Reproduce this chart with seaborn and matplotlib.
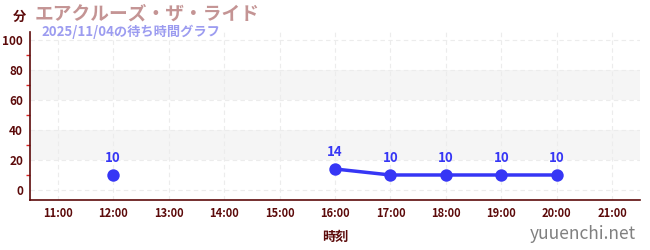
import numpy as np
import pandas as pd
import matplotlib
matplotlib.use("Agg")
import matplotlib.pyplot as plt
from matplotlib.ticker import FixedLocator
import seaborn as sns

title = "エアクルーズ・ザ・ライド"
subtitle = "2025/11/04の待ち時間グラフ"
times = ["12:00", "16:00", "17:00", "18:00", "19:00", "20:00"]
waits = [10, 14, 10, 10, 10, 10]
segments = [0, 1, 1, 1, 1, 1]
xtick_labels = ["11:00", "12:00", "13:00", "14:00", "15:00", "16:00",
                "17:00", "18:00", "19:00", "20:00", "21:00"]

sns.set_theme(style="white")
plt.rcParams["font.family"] = ["Noto Sans CJK JP", "DejaVu Sans"]

def to_h(t):
    h, m = t.split(":")
    return int(h) + int(m) / 60

df = pd.DataFrame({"hour": [to_h(t) for t in times], "wait": waits, "seg": segments})

fig = plt.figure(figsize=(6.5, 2.5), dpi=100)
ax = fig.add_axes([30/650, 1-200/250, 610/650, 168/250])

maroon = "#5c0a0a"
blue = "#3636f5"

ax.set_xlim(10.5, 21.5)
ax.set_ylim(-6.67, 105.3)

for lo, hi in [(20, 40), (60, 80)]:
    ax.axhspan(lo, hi, color="#f5f5f5", zorder=0, lw=0)

xt = [to_h(t) for t in xtick_labels]
ax.set_xticks(xt)
ax.set_xticklabels(xtick_labels)
ax.set_yticks([0, 20, 40, 60, 80, 100])
ax.yaxis.set_minor_locator(FixedLocator([10, 30, 50, 70, 90]))
ax.grid(True, which="major", color="#ececec", linestyle=(0, (4, 3)), lw=0.8)
ax.set_axisbelow(True)

multi = df[df.groupby("seg")["seg"].transform("size") > 1]
sns.lineplot(data=multi, x="hour", y="wait", units="seg", estimator=None,
             color=blue, lw=2.5, ax=ax, legend=False, zorder=3)
sns.scatterplot(data=df, x="hour", y="wait", color=blue, s=80, edgecolor=blue,
                linewidth=0, ax=ax, legend=False, zorder=4)

for h, w in zip(df["hour"], df["wait"]):
    ax.annotate(f"{w}", (h, w), xytext=(0, 7), textcoords="offset points",
                ha="center", va="bottom", color=blue, fontsize=9.5, fontweight="bold")

for s in ["top", "right"]:
    ax.spines[s].set_visible(False)
for s in ["left", "bottom"]:
    ax.spines[s].set_color(maroon)
    ax.spines[s].set_linewidth(1.2)

ax.tick_params(axis="x", which="major", length=4, width=1, color="#666666",
               labelsize=8, labelcolor=maroon, direction="inout", pad=3)
ax.tick_params(axis="y", which="major", length=6, width=1, color="#222222",
               labelsize=8.5, labelcolor=maroon, direction="inout", pad=2)
ax.tick_params(axis="y", which="minor", length=3, width=1, color="#dd2222",
               direction="out", left=True)
for lbl in ax.get_xticklabels() + ax.get_yticklabels():
    lbl.set_fontweight("bold")

ax.set_xlabel("時刻", color=maroon, fontsize=9.5, fontweight="bold", labelpad=7)
ax.set_ylabel("")

fig.text(19/650, 1-17/250, "分", color=maroon, fontsize=9.5, fontweight="bold",
         ha="center", va="center")
fig.text(35/650, 1-14/250, title, color="#c49494", fontsize=13.5, fontweight="bold",
         ha="left", va="center")
fig.text(41/650, 1-32/250, subtitle, color="#9c9cf0", fontsize=9.5, fontweight="bold",
         ha="left", va="center")
fig.text(636/650, 1-234/250, "yuuenchi.net", color="#808080", fontsize=12.5,
         ha="right", va="center")

fig.savefig("out.png", dpi=100)
